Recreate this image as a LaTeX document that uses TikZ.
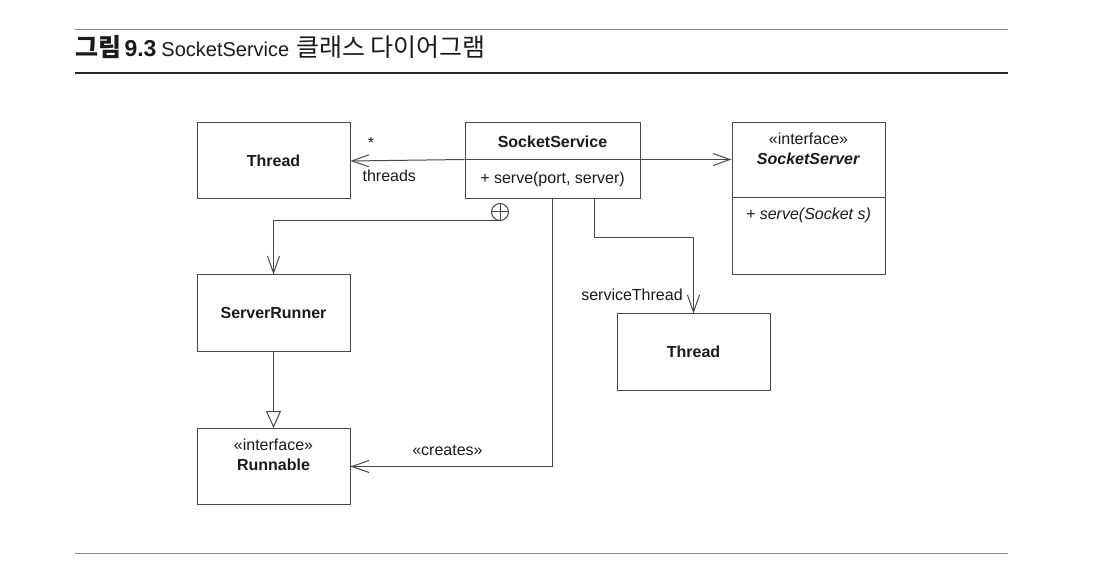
\documentclass[tikz,border=0pt]{standalone}
\usepackage{fontspec}
\setmainfont{Liberation Sans}
\newfontfamily\kofont{Noto Sans CJK KR}
\usetikzlibrary{arrows.meta}
\definecolor{umlline}{HTML}{484848}
\definecolor{textcol}{HTML}{1A1A1A}
\definecolor{rulegray}{HTML}{8C8C8C}
\newcommand{\kotext}[1]{{\kofont\fontsize{25}{26}\selectfont #1}}

\begin{document}
\begin{tikzpicture}[x=1pt,y=-1pt,line width=1pt,color=umlline,
                    >={Straight Barb[length=17pt,width=12pt]},node distance=153pt]
\tikzstyle{every node}=[text=textcol,font=\fontsize{16}{20}\selectfont]
\tikzstyle{class}=[draw,rectangle,minimum width=153pt,minimum height=76pt,inner sep=0pt,
                   font=\fontsize{16}{20}\selectfont\bfseries]
\tikzstyle{stereo}=[anchor=north,align=center,inner sep=0pt,yshift=-10pt,
                    font=\fontsize{16}{20}\selectfont\mdseries]
\useasboundingbox (0,0) rectangle (1096,588);

% caption and rules
\draw[rulegray] (75,30) -- (1008,30);
\draw[line width=2.5pt,color=black!85] (75,73) -- (1008,73);
\draw[rulegray] (75,553) -- (1008,553);
\node[anchor=base west,inner sep=0pt,font=\fontsize{20}{24}\selectfont] (cap) at (75,57)
  {\kotext{\bfseries 그림}\hspace{3pt}{\fontsize{23}{24}\selectfont\bfseries 9.3}\hspace{5pt}SocketService\hspace{7pt}\kotext{클래스 다이어그램}};

\node[class] (thr) at (273.5,161) {Thread};
\node[class,minimum width=175pt,minimum height=37pt] (ss) at (552.5,141.5) {SocketService};
\node[class,minimum width=175pt,minimum height=39pt,font=\fontsize{16}{20}\selectfont,
      below of=ss,node distance=38pt] (ssops) {+ serve(port, server)};

\node[class,minimum height=75pt,
      label={[stereo]north:{«interface»\\\textbf{\textit{SocketServer}}}}] (srv) at (808.5,160.5) {};
\node[class,minimum height=77pt,below of=srv,node distance=76pt,
      label={[stereo]north:{\textit{+ serve(Socket s)}}}] (srvops) {};

\node[class,below of=thr,node distance=152pt] (sr) {ServerRunner};
\node[class,below of=sr,node distance=153.5pt,
      label={[stereo]north:{«interface»\\\textbf{Runnable}}}] (run) {};
\node[class] (thrB) at (693.5,352) {Thread};

\node[circle,draw,minimum size=17pt,inner sep=0pt] (nest) at (500,212) {};
\draw (nest.north) -- (nest.south) (nest.west) -- (nest.east);

\draw[->] (ssops.north west) -- (thr.east)
  node[pos=0.82,above=8pt] {*} node[pos=0.66,below=6pt] {threads};
\draw[->] (ssops.north east) -- (ssops.north east -| srv.west);
\draw[->] (nest.south) -| (sr.north);
\draw[->] (ssops.south) |- (run.east) node[pos=0.76,above=7pt] {«creates»};
\draw[->] ([xshift=41.5pt]ssops.south) -- ++(0,38) -| (thrB.north)
  node[pos=0.88,left=7pt] {serviceThread};
\draw[-{Triangle[open,length=17pt,width=15pt]}] (sr.south) -- (run.north);

\end{tikzpicture}
\end{document}
